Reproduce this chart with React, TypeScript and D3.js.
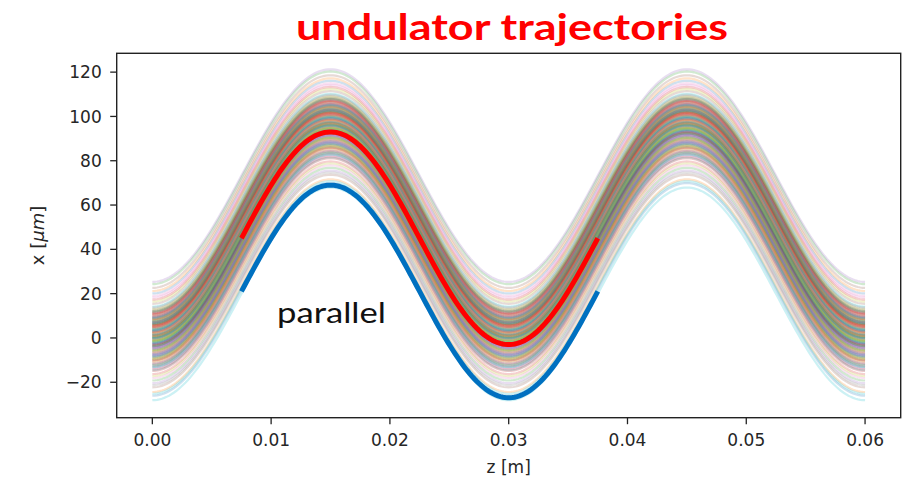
import React from "react";
import * as d3 from "d3";

// Axis ticks
const zTicks = [0, 0.01, 0.02, 0.03, 0.04, 0.05, 0.06];
const xTicks = [-20, 0, 20, 40, 60, 80, 100, 120];

// Particle offsets: x at z = 0 (µm), one trajectory each
const offsets = [
  // bunch core
  3.1, 8.2, 0.4, 11.3, -2.2, 6.3, 9.4, -1.1, 4.1, -3.7,
  12.1, 2.2, 5.2, -4.1, 10.2, 1.3, 7.2, -2.8, -0.6, 8.8,
  3.6, 11.8, 0.1, -3.2, 6.8, 2.7, 9.1, -1.6, 4.7, 7.7,
  -0.2, 5.6, 1.8, 10.7, -2.5, 6.1, 3.9, 0.8, 9.8, -3.9,
  7.4, 2.5, -1.3, 5.9, 4.4, 1.1, -4.9, 8.5, -0.9, 6.6,
  2.9, 10.4, -2.0, 4.9, -4.4, 12.4, 0.6, 8.0, 3.3, -1.9,
  7.0, 5.4, -3.5, 9.6, 1.5, 11.1, -0.4, 6.0, 2.0, 4.0,
  -2.9, 8.7, 0.3, 10.9, -4.3, 3.0, 5.1, 7.9, -1.7, 1.6,
  9.3, 2.4, 6.4, -3.0, 11.6, 0.0, 4.6, -0.8, 7.5, 3.4,
  -2.4, 8.4, 1.2, 5.7, 10.0, -3.6, 2.8, 6.9, -1.2, 9.0,
  3.8, 0.9, 11.9, 5.0, -4.6, 7.1, 1.9, 8.9, 4.3, -0.1,
  // lower shoulder
  -12.4, -5.3, -8.7, -14.1, -6.6, -10.2, -7.1, -11.2, -9.3, -13.3,
  -5.1, -6.1, -8.1, -12.9, -7.8, -11.7, -13.8, -9.8, -5.8, -14.6,
  -8.4, -6.9, -12.1, -10.1, -7.5, -9.1, -11.6, -6.3, -9.6, -13.1,
  -7.3, -10.7, -5.6, -14.9, -8.0,
  // upper tail
  15.4, 18.2, 13.2, 16.4, 14.2, 20.1, 21.2, 24.3, 17.3, 25.3,
  22.6, 19.0, 13.8, 12.9,
  // lower tail
  -28.1, -26.1, -24.4, -19.2, -16.3, -20.4, -22.3, -18.1, -21.3, -17.2,
  -25.2,
];

// Undulator parameters
const periodZ = 0.03; // m
const halfSwing = 48; // µm
const zStart = 0;
const zEnd = 0.06;

// Highlighted trajectories over one period
const highlightOffsets = [-3, -27];
const highlightColors = ["#ff0000", "#0070c0"];
const highlightRange = [0.0075, 0.0375];

const tab10 = [
  "#1f77b4", "#ff7f0e", "#2ca02c", "#d62728", "#9467bd",
  "#8c564b", "#e377c2", "#7f7f7f", "#bcbd22", "#17becf",
];

const W = 908;
const H = 479;
const plot = { left: 116.7, right: 900.7, top: 53.3, bottom: 417.7 };

const trajectory = (x0: number, z: number) =>
  x0 + halfSwing * (1 - Math.cos((2 * Math.PI * z) / periodZ));

export default function App() {
  const xs = d3.scaleLinear().domain([-0.003, 0.063]).range([plot.left, plot.right]);
  const ys = d3.scaleLinear().domain([-36.0, 128.5]).range([plot.bottom, plot.top]);

  const grid = d3.range(zStart, zEnd + 1e-9, 0.0002);
  const hiGrid = d3.range(highlightRange[0], highlightRange[1] + 1e-9, 0.0002);

  const line = (x0: number) =>
    d3
      .line<number>()
      .x((z) => xs(z))
      .y((z) => ys(trajectory(x0, z)));

  const tickColor = "#262626";
  const fontTick = "'DejaVu Sans', sans-serif";

  return (
    <svg
      width={W}
      height={H}
      style={{ position: "absolute", left: 0, top: 0, background: "#fff" }}
    >
      <text
        x={512}
        y={40}
        fontFamily="Lato, 'Open Sans', sans-serif"
        fontWeight="bold"
        fontSize={36}
        fill="#ff0000"
        textAnchor="middle"
        textLength={432}
        lengthAdjust="spacingAndGlyphs"
      >
        undulator trajectories
      </text>

      <g>
        {offsets.map((x0, i) => (
          <path
            key={i}
            d={line(x0)(grid) ?? ""}
            fill="none"
            stroke={tab10[i % 10]}
            strokeOpacity={0.22}
            strokeWidth={2.2}
          />
        ))}
      </g>

      {highlightOffsets.map((x0, i) => (
        <path
          key={"h" + i}
          d={line(x0)(hiGrid) ?? ""}
          fill="none"
          stroke={highlightColors[i]}
          strokeWidth={5}
        />
      ))}

      <rect
        x={plot.left}
        y={plot.top}
        width={plot.right - plot.left}
        height={plot.bottom - plot.top}
        fill="none"
        stroke="#222"
        strokeWidth={1.4}
      />

      {zTicks.map((t) => (
        <g key={"zt" + t} transform={`translate(${xs(t)},${plot.bottom})`}>
          <line y2={6.5} stroke="#222" strokeWidth={1.3} />
          <text
            y={28}
            textAnchor="middle"
            fontFamily={fontTick}
            fontSize={17}
            fill={tickColor}
          >
            {t.toFixed(2)}
          </text>
        </g>
      ))}

      {xTicks.map((t) => (
        <g key={"xt" + t} transform={`translate(${plot.left},${ys(t)})`}>
          <line x2={-6.5} stroke="#222" strokeWidth={1.3} />
          <text
            x={-15}
            dy="0.36em"
            textAnchor="end"
            fontFamily={fontTick}
            fontSize={17}
            fill={tickColor}
          >
            {t < 0 ? "\u2212" + Math.abs(t) : t}
          </text>
        </g>
      ))}

      <text
        x={(plot.left + plot.right) / 2}
        y={473}
        textAnchor="middle"
        fontFamily={fontTick}
        fontSize={17}
        fill={tickColor}
      >
        z [m]
      </text>

      <text
        transform={`translate(44,${(plot.top + plot.bottom) / 2}) rotate(-90)`}
        textAnchor="middle"
        fontFamily={fontTick}
        fontSize={18}
        fill={tickColor}
      >
        x [<tspan fontStyle="italic">μm</tspan>]
      </text>

      <text
        x={277}
        y={323}
        fontFamily="Lato, 'Open Sans', sans-serif"
        fontSize={28}
        fill="#111"
        textLength={109}
        lengthAdjust="spacingAndGlyphs"
      >
        parallel
      </text>
    </svg>
  );
}
